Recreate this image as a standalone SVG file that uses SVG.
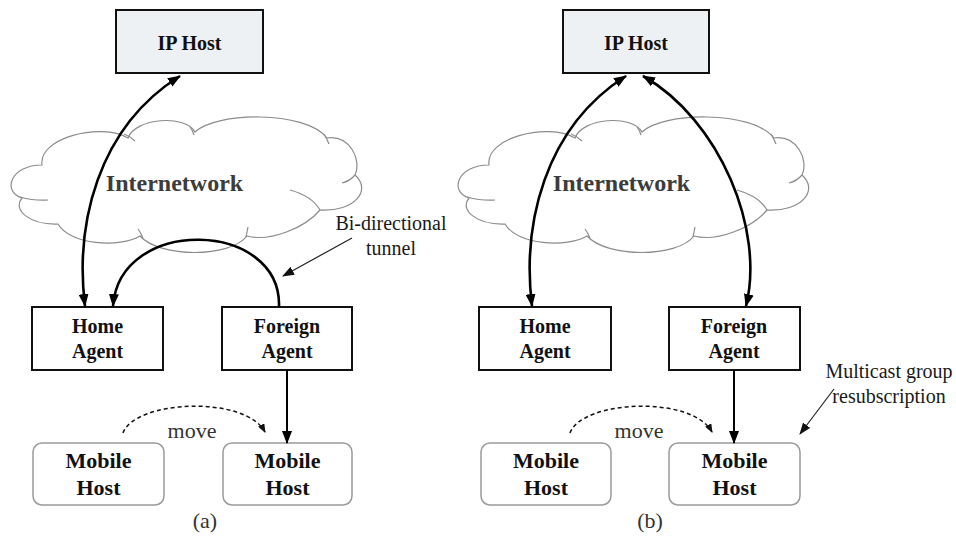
<svg xmlns="http://www.w3.org/2000/svg" xmlns:xlink="http://www.w3.org/1999/xlink" width="956" height="540" viewBox="0 0 956 540">
  <style>
    .box { fill: #ffffff; stroke: #111111; stroke-width: 2; }
    .iphost { fill: #eef1f3; stroke: #111111; stroke-width: 2; }
    .mobile { fill: #ffffff; stroke: #9a9a9a; stroke-width: 1.5; }
    .cloud { fill: none; stroke: #8c8c8c; stroke-width: 1.2; }
    .bold { font-family: "Liberation Serif", "Times New Roman", serif; font-weight: bold; font-size: 20px; text-anchor: middle; fill: #111111; }
    .big { font-size: 22px; }
    .net { font-family: "Liberation Serif", "Times New Roman", serif; font-weight: bold; font-size: 24px; text-anchor: middle; fill: #3c3c3c; }
    .note { font-family: "Liberation Serif", "Times New Roman", serif; font-size: 20px; text-anchor: middle; fill: #1a1a1a; }
    .move { font-family: "Liberation Serif", "Times New Roman", serif; font-size: 22px; text-anchor: middle; fill: #333333; }
    .thick { fill: none; stroke: #000000; stroke-width: 2.6; }
    .mid { fill: none; stroke: #000000; stroke-width: 2; }
    .thin { fill: none; stroke: #222222; stroke-width: 1.2; }
    .dash { fill: none; stroke: #111111; stroke-width: 1.5; stroke-dasharray: 4 3; }
  </style>
  <defs>
    <marker id="ah" viewBox="0 0 13 10" refX="12" refY="5" markerWidth="13" markerHeight="10" markerUnits="userSpaceOnUse" orient="auto-start-reverse">
      <path d="M0,0 L13,5 L0,10 z" fill="#000"/>
    </marker>
    <marker id="ahs" viewBox="0 0 12 9" refX="11" refY="4.5" markerWidth="12" markerHeight="9" markerUnits="userSpaceOnUse" orient="auto">
      <path d="M0,0 L12,4.5 L0,9 z" fill="#111"/>
    </marker>
    <marker id="ahd" viewBox="0 0 9 7" refX="8" refY="3.5" markerWidth="9" markerHeight="7" markerUnits="userSpaceOnUse" orient="auto">
      <path d="M0,0 L9,3.5 L0,7 z" fill="#111"/>
    </marker>
    <!-- cloud outline with its inner lobe strokes -->
    <g id="cloud" class="cloud">
      <path d="M42,165 C38,138 100,122 128,138 C135,118 185,114 195,132 C215,112 305,110 327,138 C350,135 362,160 355,175 C372,190 355,212 320,210 C305,228 270,242 247,236 C230,258 160,258 140,236 C120,248 70,245 58,224 C30,225 12,210 22,198 C2,192 10,165 42,165 Z"/>
      <path d="M124,134 Q130,136 135,141"/>
      <path d="M190,127 Q193,131 194,135"/>
      <path d="M324,134 Q327,139 329,144"/>
      <path d="M355,175 Q350,181 342,183"/>
      <path d="M290,190 Q312,196 320,210"/>
      <path d="M248,227 Q247,232 246,237"/>
      <path d="M138,229 Q141,233 143,238"/>
      <path d="M20,197 Q35,201 48,200"/>
    </g>
  </defs>

  <!-- clouds -->
  <use xlink:href="#cloud"/>
  <use xlink:href="#cloud" x="447"/>
  <text class="net" x="174.5" y="191">Internetwork</text>
  <text class="net" x="621.5" y="191">Internetwork</text>

  <!-- panel (a) nodes -->
  <g id="a-iphost">
    <rect class="iphost" x="116" y="10" width="147" height="63"/>
    <text class="bold" x="189.5" y="50">IP Host</text>
  </g>
  <g id="a-home">
    <rect class="box" x="32" y="307" width="131" height="63"/>
    <text class="bold" x="97.5" y="333">Home</text>
    <text class="bold" x="97.5" y="358">Agent</text>
  </g>
  <g id="a-foreign">
    <rect class="box" x="222" y="307" width="130" height="63"/>
    <text class="bold" x="287" y="333">Foreign</text>
    <text class="bold" x="287" y="358">Agent</text>
  </g>
  <g id="a-mobile-old">
    <rect class="mobile" x="33" y="443" width="131" height="62" rx="9"/>
    <text class="bold big" x="98.5" y="468">Mobile</text>
    <text class="bold big" x="98.5" y="495">Host</text>
  </g>
  <g id="a-mobile-new">
    <rect class="mobile" x="223" y="443" width="129" height="62" rx="9"/>
    <text class="bold big" x="287.5" y="468">Mobile</text>
    <text class="bold big" x="287.5" y="495">Host</text>
  </g>

  <!-- panel (b) nodes -->
  <g id="b-iphost">
    <rect class="iphost" x="563" y="10" width="146" height="63"/>
    <text class="bold" x="636" y="50">IP Host</text>
  </g>
  <g id="b-home">
    <rect class="box" x="479" y="307" width="132" height="63"/>
    <text class="bold" x="545" y="333">Home</text>
    <text class="bold" x="545" y="358">Agent</text>
  </g>
  <g id="b-foreign">
    <rect class="box" x="669" y="307" width="131" height="63"/>
    <text class="bold" x="734" y="333">Foreign</text>
    <text class="bold" x="734" y="358">Agent</text>
  </g>
  <g id="b-mobile-old">
    <rect class="mobile" x="481" y="443" width="130" height="62" rx="9"/>
    <text class="bold big" x="546" y="468">Mobile</text>
    <text class="bold big" x="546" y="495">Host</text>
  </g>
  <g id="b-mobile-new">
    <rect class="mobile" x="669" y="443" width="131" height="62" rx="9"/>
    <text class="bold big" x="734.5" y="468">Mobile</text>
    <text class="bold big" x="734.5" y="495">Host</text>
  </g>

  <!-- connectors -->
  <g id="connectors">
    <!-- (a) -->
    <path class="thick" d="M85,306 C75,225 97,128 180,76" marker-start="url(#ah)" marker-end="url(#ah)"/>
    <path class="thick" d="M279,307 C282,220 120,215 113,306" marker-end="url(#ah)"/>
    <path class="mid" d="M287,370 L287,443" marker-end="url(#ah)"/>
    <path class="dash" d="M123,433 C135,400 245,395 265,432" marker-end="url(#ahd)"/>
    <path class="thin" d="M352,238 L283,276" marker-end="url(#ahs)"/>
    <!-- (b) -->
    <path class="thick" d="M532,306 C522,225 544,128 626,76" marker-start="url(#ah)" marker-end="url(#ah)"/>
    <path class="thick" d="M643,76 C720,120 765,230 746,306" marker-start="url(#ah)" marker-end="url(#ah)"/>
    <path class="mid" d="M734,370 L734,443" marker-end="url(#ah)"/>
    <path class="dash" d="M570,433 C582,400 692,395 712,432" marker-end="url(#ahd)"/>
    <path class="thin" d="M834,389 L800,434" marker-end="url(#ahs)"/>
  </g>

  <!-- labels -->
  <text class="note" x="391" y="230">Bi-directional</text>
  <text class="note" x="391" y="255">tunnel</text>
  <text class="note" x="889" y="378">Multicast group</text>
  <text class="note" x="889" y="403">resubscription</text>
  <text class="move" x="192" y="438">move</text>
  <text class="move" x="639" y="438">move</text>
  <text class="move" x="205" y="528">(a)</text>
  <text class="move" x="650" y="528">(b)</text>
</svg>
